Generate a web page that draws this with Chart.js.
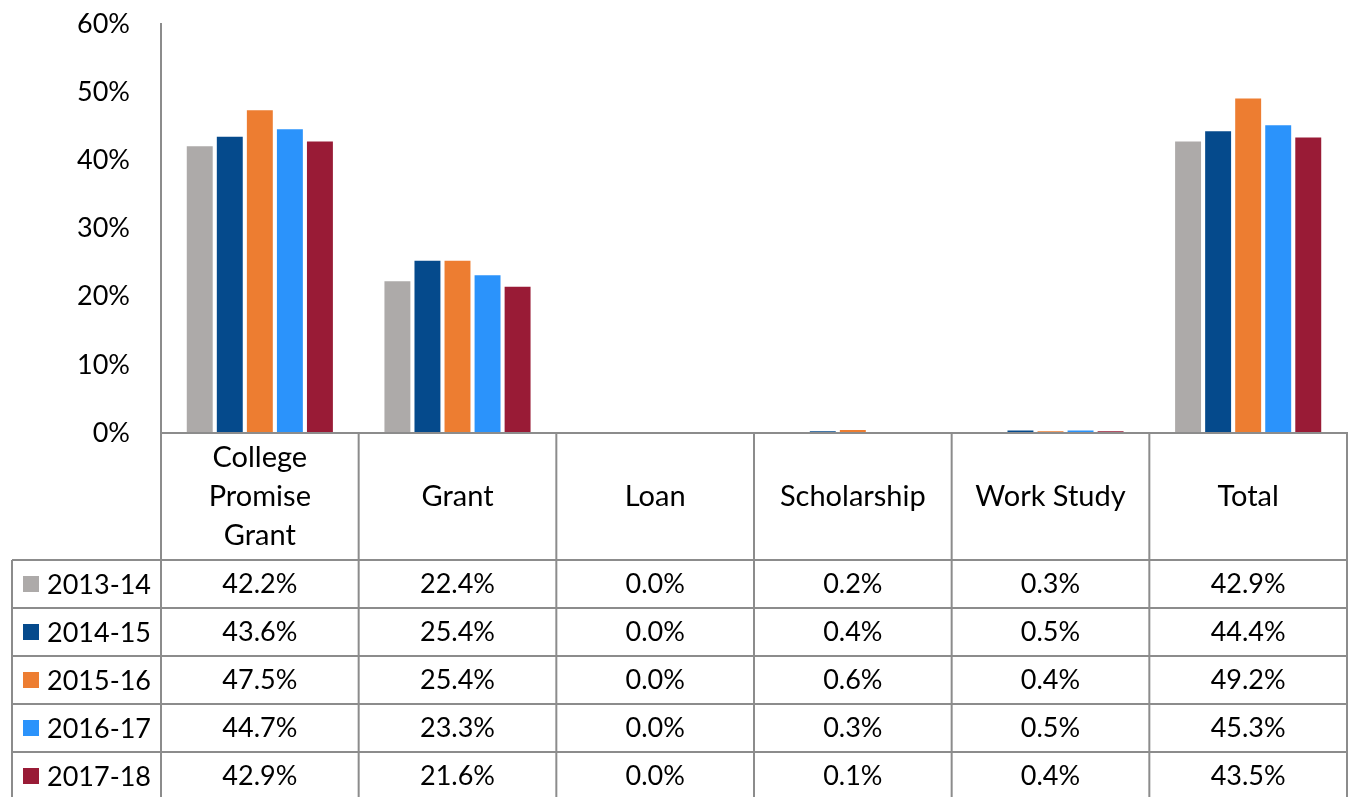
<!DOCTYPE html>
<html>
<head>
<meta charset="utf-8">
<script src="https://cdn.jsdelivr.net/npm/chart.js@4.4.0/dist/chart.umd.min.js"></script>
<style>
  html, body { margin: 0; padding: 0; background: #fff; }
  canvas { display: block; }
</style>
</head>
<body>
<canvas id="mycanvas" width="1351" height="797"></canvas>
<script>
// categories (multi-line labels as arrays)
var categories = [['College', 'Promise', 'Grant'], 'Grant', 'Loan', 'Scholarship', 'Work Study', 'Total'];
var years = ['2013-14', '2014-15', '2015-16', '2016-17', '2017-18'];

// values in percent, one array per year
var y2013 = [42.2, 22.4, 0.0, 0.2, 0.3, 42.9];
var y2014 = [43.6, 25.4, 0.0, 0.4, 0.5, 44.4];
var y2015 = [47.5, 25.4, 0.0, 0.6, 0.4, 49.2];
var y2016 = [44.7, 23.3, 0.0, 0.3, 0.5, 45.3];
var y2017 = [42.9, 21.6, 0.0, 0.1, 0.4, 43.5];

var colors = ['#ADAAA9', '#054A8C', '#ED7D31', '#2B93FB', '#991B36'];
var series = [y2013, y2014, y2015, y2016, y2017];

var FONT = 'Lato, "Open Sans", sans-serif';
var lineColor = '#8C8C8C';

//data table drawn under the plot, columns follow the x scale
var dataTable = {
  id: 'dataTable',
  afterDraw: function(chart) {
    var ctx = chart.ctx;
    var xs = chart.scales.x;
    var area = chart.chartArea;
    var n = categories.length;
    var colW = (xs.right - xs.left) / n;
    var top = area.bottom;
    var headBottom = top + 127;
    var rowH = 48;
    var legLeft = 12;
    var bottom = chart.height;

    ctx.save();
    ctx.strokeStyle = lineColor;
    ctx.lineWidth = 2;

    // top line of header
    ctx.beginPath();
    ctx.moveTo(xs.left, top);
    ctx.lineTo(xs.right + 1, top);
    ctx.stroke();

    // row lines
    for (var r = 0; r < years.length; r++) {
      var yy = headBottom + r * rowH;
      ctx.beginPath();
      ctx.moveTo(legLeft, yy);
      ctx.lineTo(xs.right + 1, yy);
      ctx.stroke();
    }

    // column lines
    for (var c = 0; c <= n; c++) {
      var xx = xs.getPixelForValue(c) - colW / 2;
      ctx.beginPath();
      ctx.moveTo(xx, top);
      ctx.lineTo(xx, bottom);
      ctx.stroke();
    }
    // legend column left edge
    ctx.beginPath();
    ctx.moveTo(legLeft, headBottom);
    ctx.lineTo(legLeft, bottom);
    ctx.stroke();

    // header text
    ctx.fillStyle = '#000';
    ctx.textAlign = 'center';
    ctx.textBaseline = 'middle';
    ctx.font = '29px ' + FONT;
    var headMid = (top + headBottom) / 2;
    for (var i = 0; i < n; i++) {
      var lines = [].concat(categories[i]);
      var cx = xs.getPixelForValue(i);
      var lh = 39;
      var y0 = headMid - (lines.length - 1) * lh / 2;
      for (var k = 0; k < lines.length; k++) {
        ctx.fillText(lines[k], cx, y0 + k * lh);
      }
    }

    // values
    ctx.font = '27px ' + FONT;
    for (var s = 0; s < series.length; s++) {
      var cy = headBottom + s * rowH + rowH / 2;
      for (var j = 0; j < n; j++) {
        ctx.fillText(series[s][j].toFixed(1) + '%', xs.getPixelForValue(j), cy);
      }
    }

    // legend keys
    ctx.textAlign = 'left';
    ctx.font = '27px ' + FONT;
    for (var s2 = 0; s2 < years.length; s2++) {
      var ly = headBottom + s2 * rowH + rowH / 2;
      ctx.fillStyle = colors[s2];
      ctx.fillRect(23, ly - 8, 16, 16);
      ctx.fillStyle = '#000';
      ctx.fillText(years[s2], 47, ly + 1);
    }
    ctx.restore();
  }
};

var datasets = years.map(function(yr, i) {
  return {
    label: yr,
    data: series[i],
    backgroundColor: colors[i],
    borderColor: 'rgba(255,255,255,0.9)',
    borderWidth: 1,
    categoryPercentage: 0.76,
    barPercentage: 0.93
  };
});

var chart1 = new Chart(document.getElementById('mycanvas'), {
  type: 'bar',
  data: { labels: categories, datasets: datasets },
  plugins: [dataTable],
  options: {
    responsive: false,
    animation: false,
    layout: { padding: { top: 24, right: 4, bottom: 364, left: 0 } },
    plugins: {
      legend: { display: false },
      tooltip: { enabled: false }
    },
    scales: {
      x: { display: false },
      y: {
        min: 0,
        max: 60,
        afterFit: function(scale) {
          scale.width = 161;
          // tick padding is horizontal here, keep it out of the vertical layout
          scale.paddingTop = 0;
          scale.paddingBottom = 0;
        },
        ticks: {
          stepSize: 10,
          padding: 31,
          color: '#000',
          font: { family: FONT, size: 27 },
          callback: function(v) { return v + '%'; }
        },
        grid: { display: false, drawTicks: false },
        border: { display: true, color: lineColor, width: 2 }
      }
    }
  }
});
</script>
</body>
</html>
